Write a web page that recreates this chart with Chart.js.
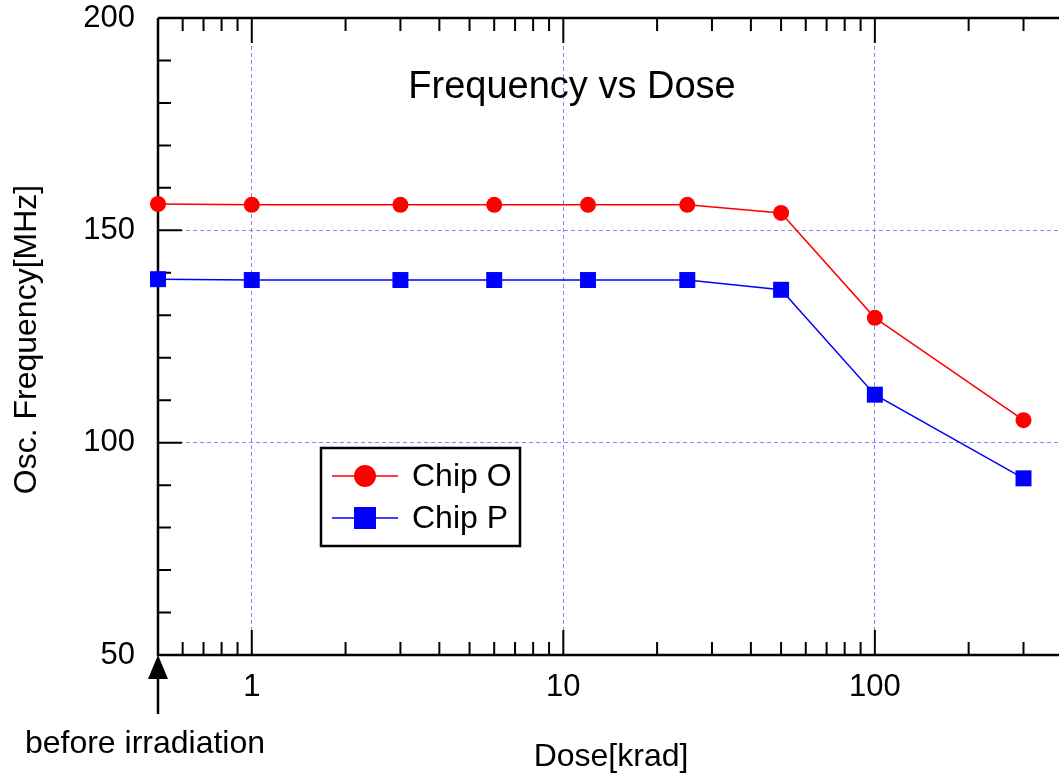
<!DOCTYPE html>
<html>
<head>
<meta charset="utf-8">
<script src="https://cdn.jsdelivr.net/npm/chart.js@4"></script>
<style>
  body { margin: 0; background: #fff; }
  #wrap { width: 1059px; height: 778px; }
</style>
</head>
<body>
<div id="wrap"><canvas id="canvas" width="1059" height="778"></canvas></div>
<script>
// dose in krad (0.5 stands for "before irradiation")
const doseKrad = [0.5, 1, 3, 6, 12, 25, 50, 100, 300];
const chipO = [156.2, 156.0, 156.0, 156.0, 156.0, 156.0, 154.1, 129.4, 105.3];
const chipP = [138.5, 138.3, 138.3, 138.3, 138.3, 138.3, 136.0, 111.3, 91.6];

const xMajor = [1, 10, 100];
const xMinor = [0.6, 0.7, 0.8, 0.9, 2, 3, 4, 5, 6, 7, 8, 9, 20, 30, 40, 50, 60, 70, 80, 90, 200, 300];
const yMajor = [50, 100, 150, 200];
const yMinor = [60, 70, 80, 90, 110, 120, 130, 140, 160, 170, 180, 190];

const FONT = "'Liberation Sans', Arial, sans-serif";
const gridBlue = 'rgba(110,110,255,0.85)';

let ctxCanvas = document.getElementById("canvas");

// axes frame, inward ticks, arrow, texts, legend
const decorations = {
    id: 'decorations',
    beforeDatasetsDraw(chart) {
        const {ctx, chartArea: a, scales: {x, y}} = chart;
        ctx.save();
        ctx.strokeStyle = '#000';
        ctx.lineWidth = 2.5;
        ctx.beginPath();
        ctx.moveTo(a.left, a.top);
        ctx.lineTo(a.right, a.top);
        ctx.moveTo(a.left, a.top);
        ctx.lineTo(a.left, a.bottom);
        ctx.lineTo(a.right, a.bottom);
        ctx.stroke();

        ctx.lineWidth = 2;
        ctx.beginPath();
        xMajor.concat(xMinor).forEach(v => {
            const px = x.getPixelForValue(v);
            const len = xMajor.includes(v) ? 25 : 13;
            ctx.moveTo(px, a.bottom);
            ctx.lineTo(px, a.bottom - len);
            ctx.moveTo(px, a.top);
            ctx.lineTo(px, a.top + len);
        });
        yMajor.concat(yMinor).forEach(v => {
            const py = y.getPixelForValue(v);
            const len = yMajor.includes(v) ? 24 : 13;
            ctx.moveTo(a.left, py);
            ctx.lineTo(a.left + len, py);
        });
        ctx.stroke();
        ctx.restore();
    },
    afterDraw(chart) {
        const {ctx, chartArea: a, scales: {x, y}} = chart;
        ctx.save();
        ctx.fillStyle = '#000';
        ctx.strokeStyle = '#000';

        // arrow marking "before irradiation"
        const ax = x.getPixelForValue(doseKrad[0]);
        ctx.beginPath();
        ctx.moveTo(ax, a.bottom);
        ctx.lineTo(ax - 10, a.bottom + 24);
        ctx.lineTo(ax + 10, a.bottom + 24);
        ctx.closePath();
        ctx.fill();
        ctx.lineWidth = 2.5;
        ctx.beginPath();
        ctx.moveTo(ax, a.bottom + 20);
        ctx.lineTo(ax, a.bottom + 59);
        ctx.stroke();

        ctx.textAlign = 'center';
        ctx.textBaseline = 'middle';
        ctx.font = '32px ' + FONT;
        ctx.fillText('before irradiation', 145, 744);
        ctx.fillText('Dose[krad]', 611, 757);

        ctx.font = '38px ' + FONT;
        ctx.fillText('Frequency vs Dose', 572, 88);

        ctx.save();
        ctx.translate(27, (a.top + a.bottom) / 2 + 3);
        ctx.rotate(-Math.PI / 2);
        ctx.font = '32px ' + FONT;
        ctx.fillText('Osc. Frequency[MHz]', 0, 0);
        ctx.restore();

        // legend box
        const lx = 321, ly = 448, lw = 199, lh = 98;
        ctx.fillStyle = '#fff';
        ctx.fillRect(lx, ly, lw, lh);
        ctx.lineWidth = 2.5;
        ctx.strokeRect(lx, ly, lw, lh);
        const rows = [ly + 28, ly + 70];
        chart.data.datasets.forEach((ds, i) => {
            const ry = rows[i];
            ctx.strokeStyle = ds.borderColor;
            ctx.lineWidth = 1.5;
            ctx.beginPath();
            ctx.moveTo(332, ry);
            ctx.lineTo(398, ry);
            ctx.stroke();
            ctx.fillStyle = ds.pointBackgroundColor;
            if (ds.pointStyle === 'rect') {
                ctx.fillRect(354, ry - 11, 22, 22);
            } else {
                ctx.beginPath();
                ctx.arc(365, ry, 11, 0, Math.PI * 2);
                ctx.fill();
            }
            ctx.fillStyle = '#000';
            ctx.textAlign = 'left';
            ctx.font = '32px ' + FONT;
            ctx.fillText(ds.label, 412, ry + 1);
        });
        ctx.restore();
    }
};

let freqChart = new Chart(ctxCanvas, {
    type: 'line',
    data: {
        datasets: [{
            label: 'Chip O',
            data: doseKrad.map((d, i) => ({x: d, y: chipO[i]})),
            borderColor: '#ff0000',
            backgroundColor: '#ff0000',
            pointBackgroundColor: '#ff0000',
            pointStyle: 'circle',
            pointRadius: 8,
            pointBorderWidth: 0,
            borderWidth: 1.5,
            clip: false
        }, {
            label: 'Chip P',
            data: doseKrad.map((d, i) => ({x: d, y: chipP[i]})),
            borderColor: '#0000ff',
            backgroundColor: '#0000ff',
            pointBackgroundColor: '#0000ff',
            pointStyle: 'rect',
            pointRadius: 11.3,
            pointBorderWidth: 0,
            borderWidth: 1.5,
            clip: false
        }]
    },
    options: {
        responsive: false,
        animation: false,
        events: [],
        layout: {autoPadding: false, padding: {top: 18, right: 0, left: 0, bottom: 0}},
        plugins: {legend: {display: false}, tooltip: {enabled: false}},
        scales: {
            x: {
                type: 'logarithmic',
                min: 0.5,
                max: 390,
                afterBuildTicks: s => {
                    s.ticks = xMajor.map(v => ({value: v, major: true}));
                },
                afterFit: s => {
                    s.height = 123;
                    s.paddingLeft = 0;
                    s.paddingRight = 0;
                },
                ticks: {
                    autoSkip: false,
                    maxRotation: 0,
                    padding: 15,
                    color: '#000',
                    font: {family: FONT, size: 31, lineHeight: 1.1},
                    callback: v => String(v)
                },
                grid: {color: gridBlue, lineWidth: 1, drawTicks: false},
                border: {display: false, dash: [4, 3]}
            },
            y: {
                min: 50,
                max: 200,
                afterBuildTicks: s => {
                    s.ticks = yMajor.map(v => ({value: v}));
                },
                afterFit: s => {
                    s.width = 158;
                    s.paddingTop = 0;
                    s.paddingBottom = 0;
                },
                ticks: {
                    padding: 23,
                    color: '#000',
                    font: {family: FONT, size: 31, lineHeight: 1.1},
                    callback: v => String(v)
                },
                grid: {
                    color: c => (c.tick && (c.tick.value === 50 || c.tick.value === 200)) ? 'rgba(0,0,0,0)' : gridBlue,
                    lineWidth: 1,
                    drawTicks: false
                },
                border: {display: false, dash: [4, 3]}
            }
        }
    },
    plugins: [decorations]
});
</script>
</body>
</html>
